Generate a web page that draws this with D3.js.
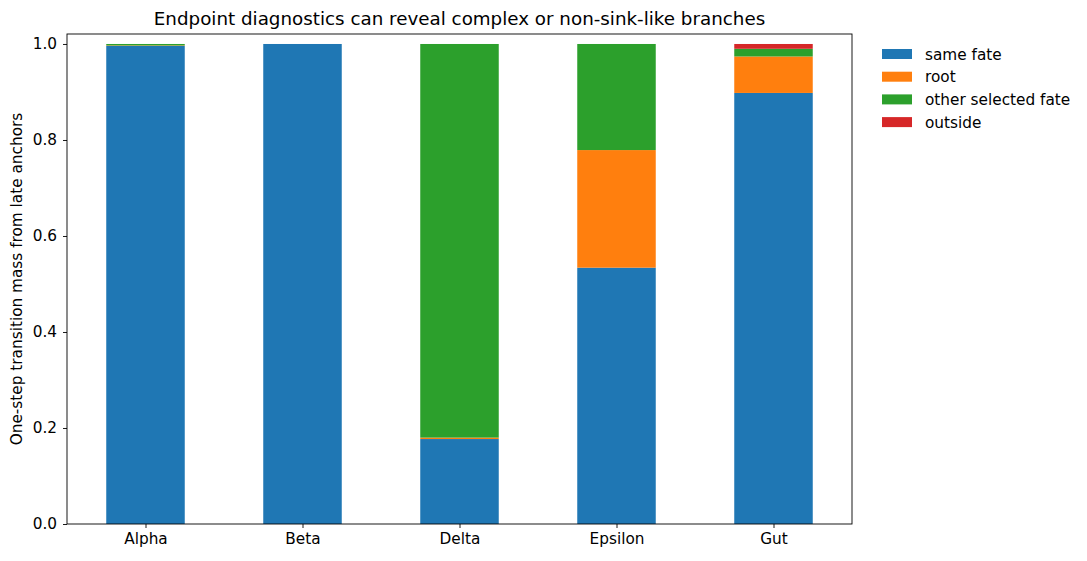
<!DOCTYPE html>
<html><head><meta charset="utf-8">
<script src="https://cdn.jsdelivr.net/npm/d3@7"></script>
<style>body{margin:0;background:#fff;} text{font-family:"DejaVu Sans",sans-serif;}</style>
</head><body><svg id="c" width="1087" height="561"></svg>
<script>
const categories = ["Alpha","Beta","Delta","Epsilon","Gut"];
const seriesNames = ["same fate","root","other selected fate","outside"];
const sameFate = [0.996, 1.0, 0.177, 0.534, 0.898];
const root = [0.001, 0.0, 0.003, 0.245, 0.076];
const otherFate = [0.003, 0.0, 0.820, 0.221, 0.016];
const outside = [0.0, 0.0, 0.0, 0.0, 0.010];
const colors = ["#1f77b4","#ff7f0e","#2ca02c","#d62728"];
const yTicks = [0,0.2,0.4,0.6,0.8,1.0];
const title = "Endpoint diagnostics can reveal complex or non-sink-like branches";
const yLabel = "One-step transition mass from late anchors";

const FS = 15.3, TFS = 18.3;
const svg = d3.select("#c");
const L=67, R=852, T=34, B=524;
const x = d3.scaleLinear().domain([-0.5, categories.length-0.5]).range([L,R]);
const y = d3.scaleLinear().domain([0,1.0208]).range([B,T]);
const series = [sameFate, root, otherFate, outside];
const rows = categories.map((c,i)=>{const o={cat:c,i}; seriesNames.forEach((s,k)=>o[s]=series[k][i]); return o;});
const stack = d3.stack().keys(seriesNames)(rows);
const bw = 0.5;
stack.forEach((layer,k)=>{
  svg.append("g").selectAll("rect").data(layer).enter().append("rect")
    .attr("x",d=>x(d.data.i-bw/2)).attr("width",x(bw)-x(0))
    .attr("y",d=>y(d[1])).attr("height",d=>Math.max(0,y(d[0])-y(d[1])))
    .attr("fill",colors[k]);
});
// axes
const xa = svg.append("g").attr("transform",`translate(0,${B})`)
  .call(d3.axisBottom(x).tickValues(categories.map((c,i)=>i)).tickFormat(i=>categories[i]).tickSize(4).tickPadding(5));
const ya = svg.append("g").attr("transform",`translate(${L},0)`)
  .call(d3.axisLeft(y).tickValues(yTicks).tickFormat(d3.format(".1f")).tickSize(4).tickPadding(6));
[xa,ya].forEach(a=>{a.select(".domain").remove(); a.selectAll("text").style("font-size",FS+"px").attr("fill","#000").style("font-family","DejaVu Sans"); a.selectAll("line").attr("stroke","#000").attr("stroke-width",0.9);});
svg.append("rect").attr("x",L).attr("y",T).attr("width",R-L).attr("height",B-T).attr("fill","none").attr("stroke","#000").attr("stroke-width",0.9);
svg.append("text").attr("x",(L+R)/2).attr("y",25).attr("text-anchor","middle").style("font-size",TFS+"px").text(title);
svg.append("text").attr("transform",`translate(22,${(T+B)/2}) rotate(-90)`).attr("text-anchor","middle").style("font-size",FS+"px").text(yLabel);
// legend
const lg = svg.append("g");
seriesNames.forEach((s,k)=>{
  const yy = 54 + k*22.7;
  lg.append("rect").attr("x",882).attr("y",yy-5).attr("width",30).attr("height",10).attr("fill",colors[k]);
  lg.append("text").attr("x",925).attr("y",yy+5.5).style("font-size",FS+"px").text(s);
});
</script></body></html>
